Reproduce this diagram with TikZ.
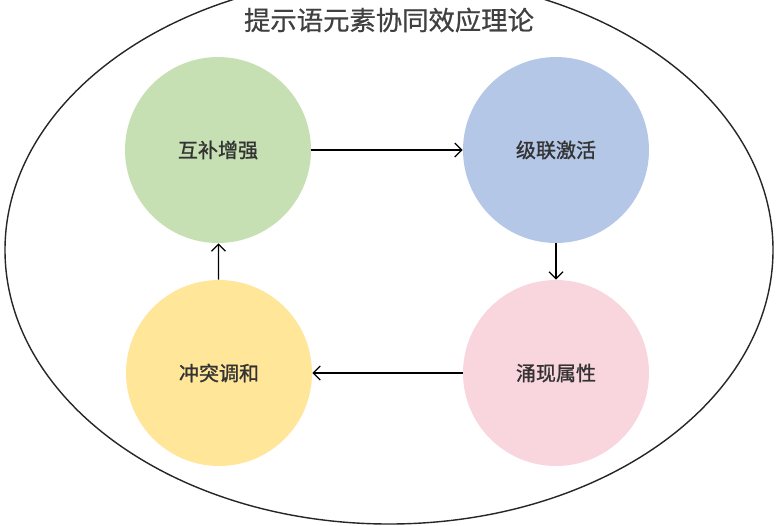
\documentclass[tikz,border=0pt]{standalone}
\usepackage{fontspec}
\usetikzlibrary{arrows.meta}
\newfontfamily\cjk[FakeBold=1.2]{Noto Sans CJK SC}
\newfontfamily\cjkt[FakeBold=.6]{Noto Sans CJK SC}
\definecolor{hbgreen}{HTML}{C6E0B4}\definecolor{hbblue}{HTML}{B4C7E7}
\definecolor{hbyellow}{HTML}{FFE699}\definecolor{hbpink}{HTML}{F9D6DE}
\tikzset{phase/.style={circle,minimum size=3.72cm,inner sep=0pt,font=\cjk\fontsize{11.4}{13}\selectfont,text=black!80}}
\begin{document}
\begin{tikzpicture}[x=.02cm,y=-.02cm,>={Straight Barb[length=4pt,width=8pt]}]
\useasboundingbox(0,0)rectangle(777,525);
\clip(0,0)rectangle(777,525);
\fill[white](0,0)rectangle(777,525);
\draw[line width=.8pt,black!85](389,250)ellipse[x radius=384,y radius=274];
\node[font=\cjkt\fontsize{15}{18}\selectfont,text=black!75](title)at(389,20){提示语元素协同效应理论};
\node[phase,fill=hbgreen](hubu)at(218,150){互补增强};
\node[phase,fill=hbblue](jilian)at(556,150){级联激活};
\node[phase,fill=hbpink](yongxian)at(556,373){涌现属性};
\node[phase,fill=hbyellow](chongtu)at(219,373){冲突调和};
\draw[->,line width=.7pt](hubu)--(jilian);\draw[->,line width=.7pt](jilian)--(yongxian);
\draw[->,line width=.7pt](yongxian)--(chongtu);\draw[->,line width=.7pt](chongtu)--(hubu);
\end{tikzpicture}
\end{document}
